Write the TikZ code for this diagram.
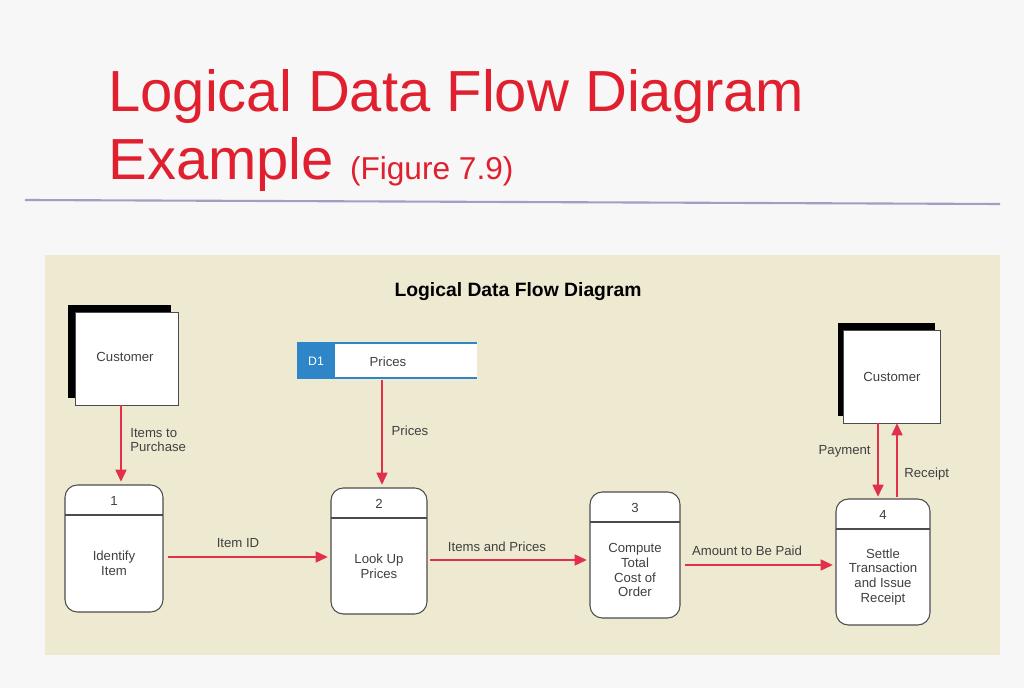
\documentclass[tikz,border=0pt]{standalone}
\usepackage{fontspec}
\setmainfont{Liberation Sans}
\usetikzlibrary{arrows.meta}
\definecolor{tred}{HTML}{E0202E}
\definecolor{panel}{HTML}{EEEAD2}
\definecolor{dblue}{HTML}{2E86C8}
\definecolor{ared}{HTML}{E0304A}
\tikzset{
 x=0.02cm,y=-0.02cm,
 lbl/.style={font=\fontsize{7.5}{8.5}\selectfont,text=black!75,inner sep=0pt},
 proc/.style={draw=black!70,fill=white,rounded corners=7pt,line width=0.6pt},
 ent/.style={draw=black!70,fill=white,line width=0.6pt},
 flow/.style={draw=ared,line width=1.6pt,-{Triangle[length=7pt,width=6pt]}}
}
\begin{document}
\begin{tikzpicture}
\fill[white!94!gray] (0,0) rectangle (1024,688);
\node[anchor=base west,text=tred,font=\fontsize{33}{36}\selectfont,inner sep=0] (t1) at (108,112) {Logical Data Flow Diagram};
\node[anchor=base west,text=tred,inner sep=0] (t2) at (108,180) {\fontsize{33}{36}\selectfont Example \fontsize{18}{20}\selectfont(Figure 7.9)};
\draw[color=blue!25!gray!60,line width=1.2pt] (25,200) -- (1000,204);
\fill[panel] (45,255) rectangle (1000,655);
\node[font=\bfseries\fontsize{11}{13}\selectfont] (pt) at (518,292) {Logical Data Flow Diagram};
% left customer
\fill[black] (68,305) rectangle (171,398);
\node[ent,minimum width=103\pgflinewidth,anchor=north west,inner sep=0,minimum width=2.06cm,minimum height=1.86cm] (c1) at (75,312) {};
\node[lbl] at (125,357) {Customer};
% right customer
\fill[black] (838,323) rectangle (935,416);
\node[ent,anchor=north west,inner sep=0,minimum width=1.94cm,minimum height=1.86cm] (c2) at (843,330) {};
\node[lbl] at (892,377) {Customer};
% data store
\fill[dblue] (297,343) rectangle (335,378);
\node[text=white,font=\fontsize{7}{8}\selectfont] (d1) at (316,361) {D1};
\fill[white] (335,343) rectangle (477,378);
\draw[dblue,line width=0.8pt] (297,343) -- (477,343) (297,378) -- (477,378);
\node[lbl] (ds) at (388,362) {Prices};
\coordinate (dsb) at (382,380);
% processes
\foreach \n/\xa/\ya/\xb/\yb/\t in {1/65/485/163/612/{Identify\\Item},2/331/488/427/614/{Look Up\\Prices},3/590/492/680/618/{Compute\\Total\\Cost of\\Order},4/836/499/930/625/{Settle\\Transaction\\and Issue\\Receipt}}{
 \draw[proc] (\xa,\ya) rectangle (\xb,\yb);
 \draw[black!70,line width=0.6pt] (\xa,\ya+30) -- (\xb,\ya+30);
 \node[lbl] at ({(\xa+\xb)/2},\ya+16) {\n};
 \node[lbl,align=center] (p\n) at ({(\xa+\xb)/2},{(\ya+30+\yb)/2}) {\t};
}
\draw[flow] (121,405) -- (121,482);
\node[lbl,align=left,anchor=west] at (130,440) {Items to\\Purchase};
\draw[flow] (dsb) -- (382,485);
\node[lbl] at (410,431) {Prices};
\draw[flow] (168,557) -- (328,557);
\node[lbl] at (238,543) {Item ID};
\draw[flow] (430,560) -- (587,560);
\node[lbl] at (497,547) {Items and Prices};
\draw[flow] (685,565) -- (833,565);
\node[lbl] at (747,551) {Amount to Be Paid};
\draw[flow] (878,423) -- (878,497);
\node[lbl,anchor=east] at (871,451) {Payment};
\draw[flow] (897,497) -- (897,423);
\node[lbl,anchor=west] at (904,474) {Receipt};
\end{tikzpicture}
\end{document}
